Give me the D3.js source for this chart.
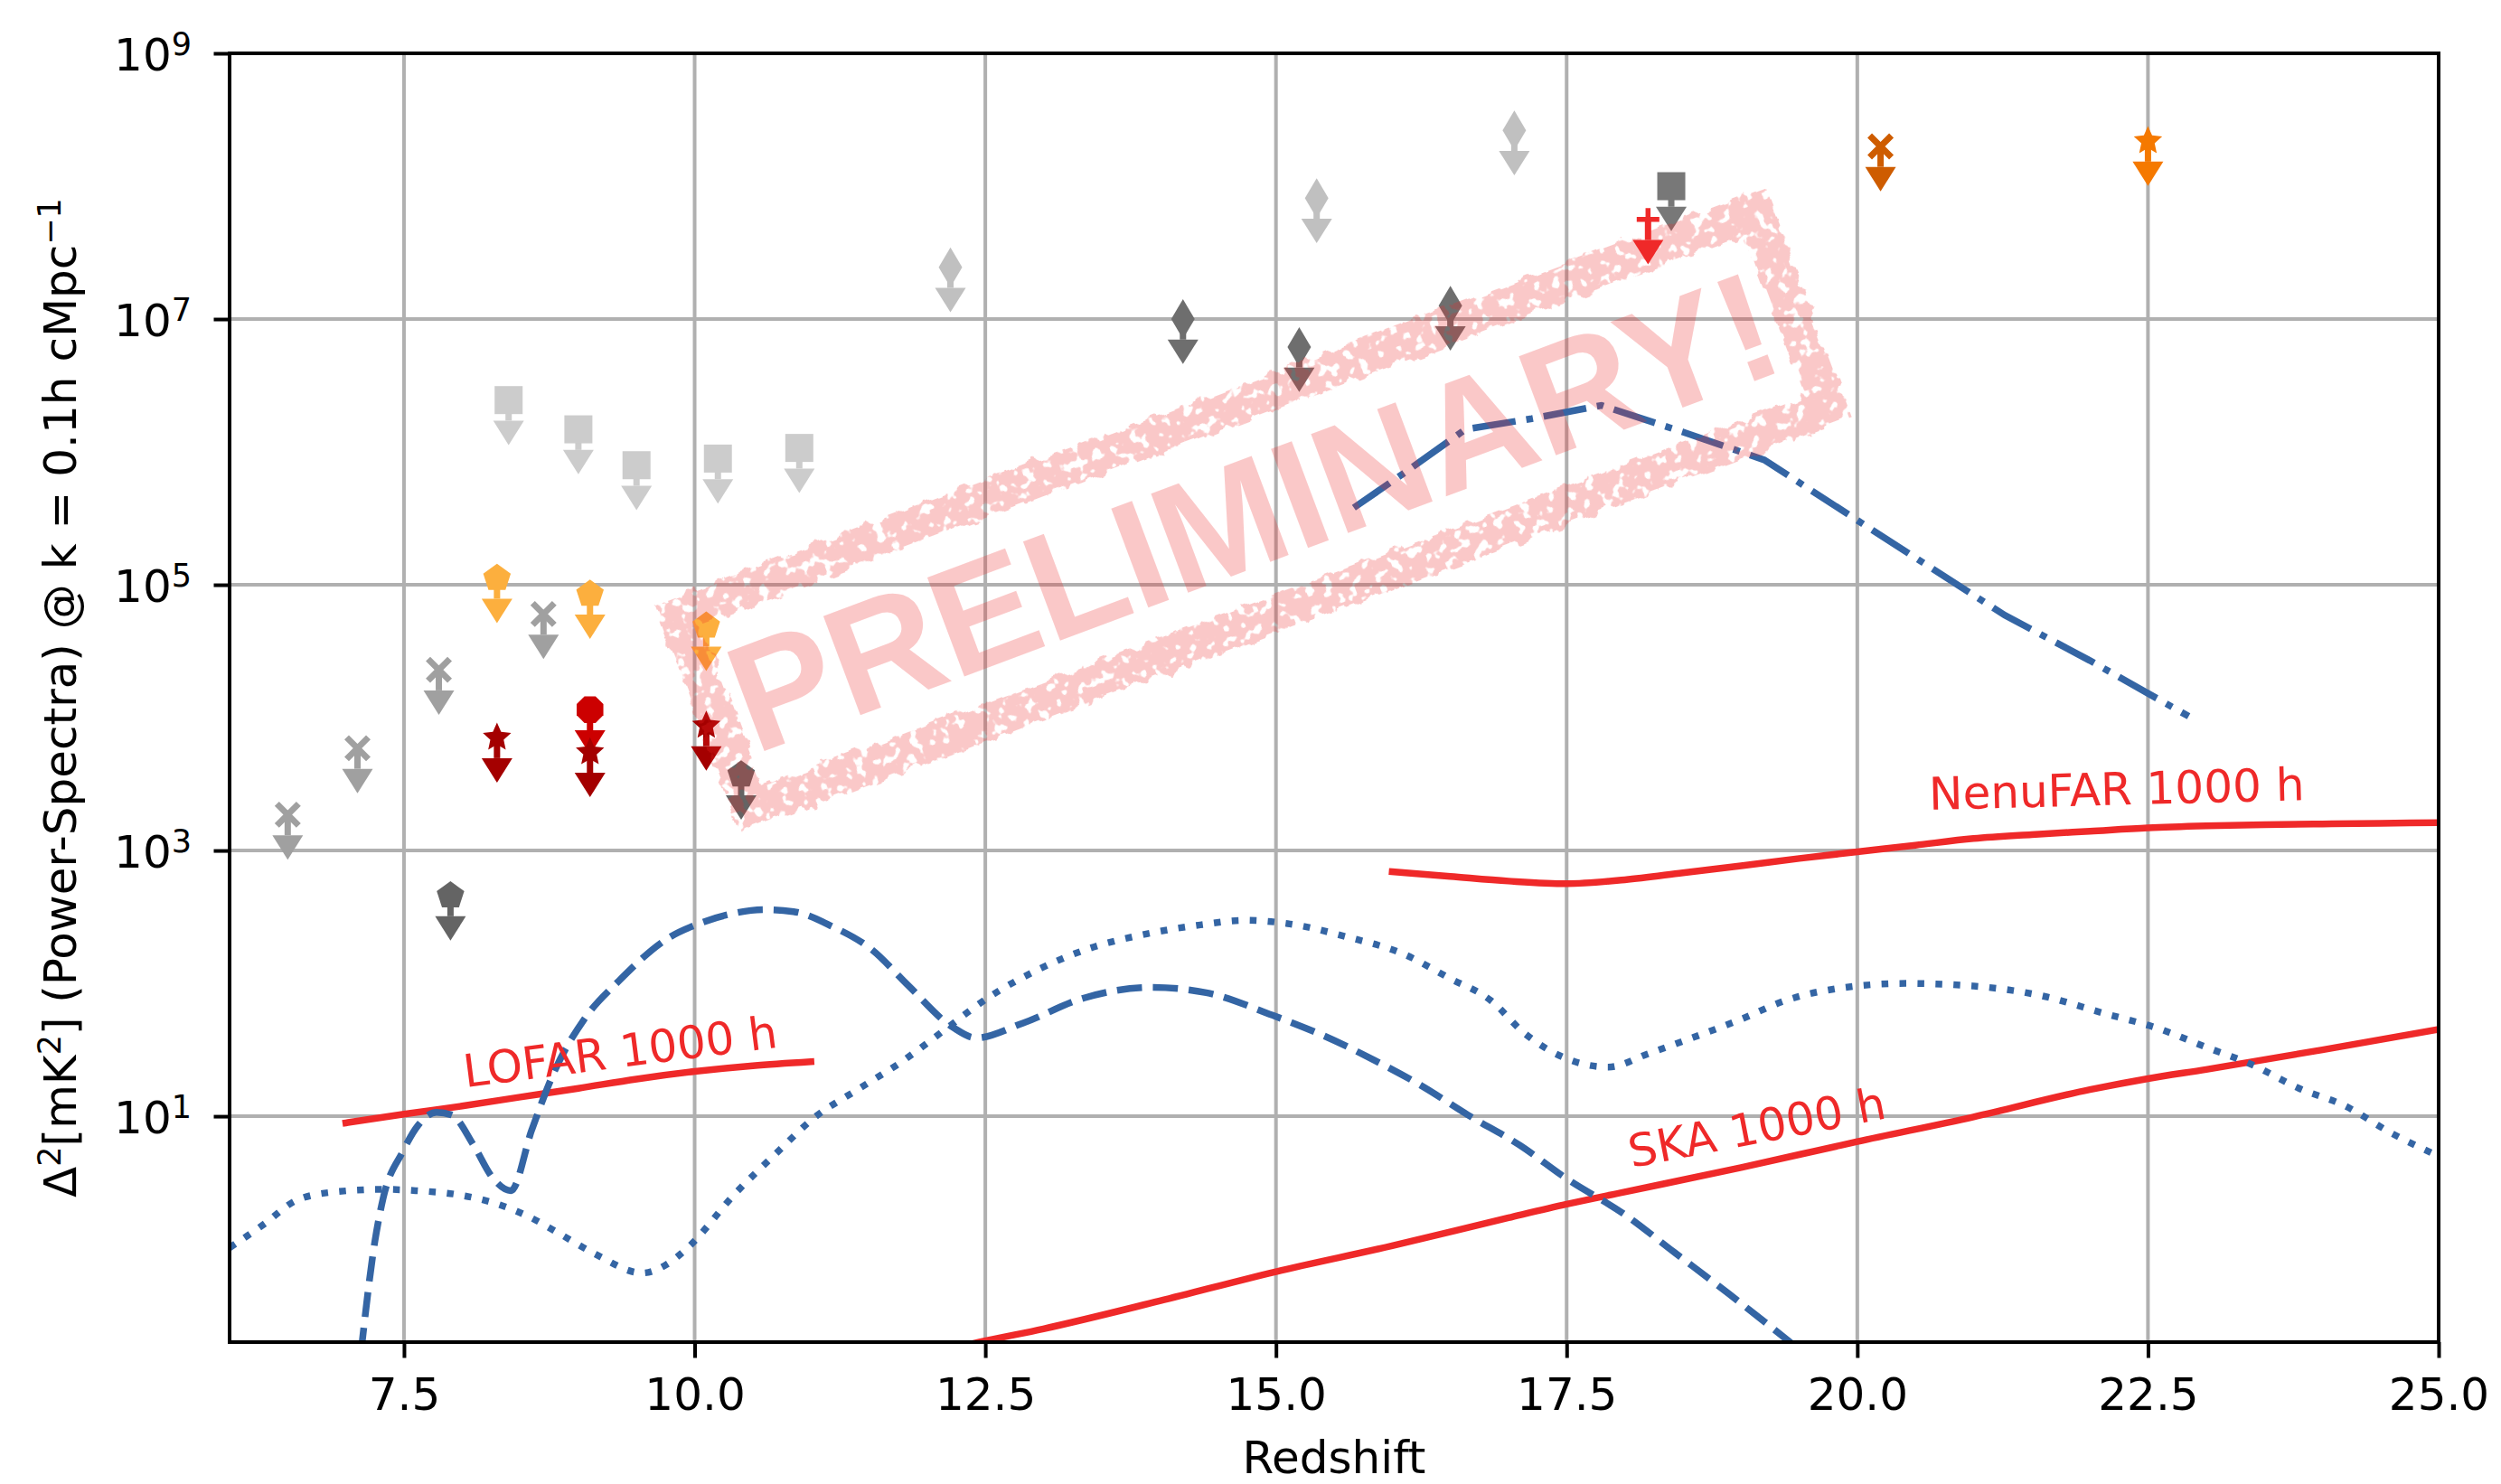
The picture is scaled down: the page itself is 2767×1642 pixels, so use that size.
<!DOCTYPE html>
<html>
<head>
<meta charset="utf-8">
<script src="https://cdn.jsdelivr.net/npm/d3@7"></script>
<style>
  html, body { margin: 0; padding: 0; background: #fff; }
  svg { display: block; }
</style>
</head>
<body>
<div id="chart"></div>
<script>
(function() {

  'use strict';

  var xTicks = [7.5, 10, 12.5, 15, 17.5, 20, 22.5, 25];
  var yTickPowers = [1, 3, 5, 7, 9];

  // Model curves as [redshift, log10 of Delta^2].
  var modelDashed = [[7.13, -0.78], [7.25, 0.06], [7.32, 0.38], [7.49, 0.735], [7.62, 0.93], [7.78, 1.03],
    [7.91, 1.01], [8.1, 0.78], [8.26, 0.54], [8.42, 0.44], [8.6, 0.90], [8.8, 1.35], [9.05, 1.73],
    [9.35, 2.02], [9.79, 2.35], [10.04, 2.45], [10.3, 2.52], [10.6, 2.555], [10.85, 2.54], [11.18, 2.43],
    [11.53, 2.25], [11.83, 1.99], [12.22, 1.67], [12.42, 1.59], [12.82, 1.70], [13.35, 1.89], [13.93, 1.97],
    [14.4, 1.93], [14.97, 1.76], [15.4, 1.61], [15.85, 1.42], [16.25, 1.23], [16.65, 1.01], [17.1, 0.78],
    [17.5, 0.53], [18.0, 0.26], [18.42, -0.02], [18.9, -0.34], [19.45, -0.72]];
  var modelDotted = [[6.0, 0.01], [6.3, 0.19], [6.57, 0.365], [6.9, 0.43], [7.32, 0.45], [7.6, 0.44],
    [7.96, 0.41], [8.3, 0.34], [8.56, 0.25], [8.85, 0.11], [9.15, -0.04], [9.55, -0.18], [9.75, -0.12],
    [9.94, 0.01], [10.34, 0.41], [10.7, 0.72], [11.03, 0.99], [11.4, 1.2], [11.78, 1.41], [12.15, 1.65],
    [12.52, 1.89], [12.97, 2.11], [13.35, 2.25], [13.93, 2.38], [14.35, 2.44], [14.73, 2.475], [15.1, 2.45],
    [15.61, 2.35], [16.1, 2.22], [16.49, 2.04], [16.85, 1.87], [17.13, 1.63], [17.54, 1.42], [17.86, 1.37],
    [18.2, 1.47], [18.58, 1.59], [19.0, 1.73], [19.38, 1.87], [19.9, 1.97], [20.42, 2.0], [21.0, 1.98],
    [21.62, 1.90], [22.1, 1.78], [22.59, 1.66], [23.0, 1.52], [23.39, 1.39], [23.8, 1.21], [24.19, 1.08],
    [24.6, 0.87], [25.0, 0.70]];
  var modelDashDot = [[15.67, 5.58], [16.1, 5.84], [16.63, 6.17], [17.2, 6.25], [17.8, 6.35], [18.5, 6.15],
    [19.2, 5.94], [20.08, 5.44], [21.27, 4.77], [22.0, 4.43], [22.85, 4.01]];

  // Sensitivity curves for 1000 h.
  var lofarSens = [[7.0, 0.95], [7.5, 1.016], [8.0, 1.077], [8.5, 1.144], [9.0, 1.21], [9.5, 1.28],
    [10.0, 1.337], [10.5, 1.38], [11.0, 1.41]];
  var nenufarSens = [[16.0, 2.84], [16.5, 2.805], [17.0, 2.77], [17.5, 2.75], [18.0, 2.78], [18.5, 2.832],
    [19.0, 2.885], [19.5, 2.94], [20.0, 2.99], [20.5, 3.04], [21.0, 3.09], [21.5, 3.12], [22.0, 3.145],
    [22.5, 3.17], [23.0, 3.185], [23.5, 3.195], [24.0, 3.20], [24.5, 3.205], [25.0, 3.21]];
  var skaSens = [[12.35, -0.72], [12.45, -0.70], [13, -0.60], [14, -0.39], [15, -0.17], [16, 0.025],
    [17, 0.236], [17.5, 0.338], [18, 0.43], [19, 0.614], [20, 0.809], [21, 0.995], [22, 1.20], [22.5, 1.283],
    [23, 1.352], [24, 1.50], [25, 1.654]];

  // Upper limits, [redshift, log10 of Delta^2].
  var limLightSquares = [[8.4, 6.39], [9.0, 6.17], [9.5, 5.90], [10.2, 5.95], [10.9, 6.03]];
  var limGrayCrosses = [[6.5, 3.27], [7.1, 3.77], [7.8, 4.36], [8.7, 4.78]];
  var limOrangePentagons = [[8.3, 5.05], [9.1, 4.93], [10.1, 4.69]];
  var limRedOctagons = [[9.1, 4.06]];
  var limRedStars = [[8.3, 3.85], [9.1, 3.74], [10.1, 3.94]];
  var limDarkPentagons = [[7.9, 2.66], [10.4, 3.57]];
  var limLightDiamonds = [[12.2, 7.39], [15.35, 7.91], [17.05, 8.42]];
  var limDarkDiamonds = [[14.2, 7.0], [15.2, 6.79], [16.5, 7.10]];
  var limGraySquares = [[18.4, 8.0]];
  var limRedPlus = [[18.2, 7.75]];
  var limOrangeCrosses = [[20.2, 8.30]];
  var limOrangeStars = [[22.5, 8.34]];

  var width = 2767;
  var height = 1642;
  var left = 254, right = 2698, top = 59, bottom = 1485;
  var font = 'DejaVu Sans, sans-serif';
  var red = '#ef2929';
  var blue = '#3465a4';

  var xScale = d3.scaleLinear().domain([6, 25]).range([left, right]);
  var yScale = d3.scaleLog().domain([Math.pow(10, -0.7), 1e9]).range([bottom, top]);

  function px(d) { return xScale(d[0]); }
  function py(d) { return yScale(Math.pow(10, d[1])); }

  var svg = d3.select('#chart')
    .append('svg')
    .attr('width', width)
    .attr('height', height)
    .style('background', '#fff');

  svg.append('defs')
    .append('clipPath')
    .attr('id', 'plot-clip')
    .append('rect')
    .attr('x', left)
    .attr('y', top)
    .attr('width', right - left)
    .attr('height', bottom - top);

  // Grid.
  var grid = svg.append('g').attr('stroke', '#b0b0b0').attr('stroke-width', 4);
  grid.selectAll('.vgrid')
    .data(xTicks)
    .enter().append('line')
    .attr('x1', function(d) { return xScale(d); })
    .attr('x2', function(d) { return xScale(d); })
    .attr('y1', top)
    .attr('y2', bottom);
  grid.selectAll('.hgrid')
    .data(yTickPowers)
    .enter().append('line')
    .attr('y1', function(d) { return yScale(Math.pow(10, d)); })
    .attr('y2', function(d) { return yScale(Math.pow(10, d)); })
    .attr('x1', left)
    .attr('x2', right);

  var smooth = d3.line().x(px).y(py).curve(d3.curveMonotoneX);
  var straight = d3.line().x(px).y(py);

  var curves = svg.append('g')
    .attr('clip-path', 'url(#plot-clip)')
    .attr('fill', 'none');

  [lofarSens, skaSens, nenufarSens].forEach(function(series) {
    curves.append('path')
      .attr('d', smooth(series))
      .attr('stroke', red)
      .attr('stroke-width', 7.5)
      .attr('stroke-linecap', 'square')
      .attr('stroke-linejoin', 'round');
  });

  curves.append('path')
    .attr('d', smooth(modelDashed))
    .attr('stroke', blue)
    .attr('stroke-width', 7.5)
    .attr('stroke-dasharray', '27.75,12');

  curves.append('path')
    .attr('d', smooth(modelDotted))
    .attr('stroke', blue)
    .attr('stroke-width', 7.5)
    .attr('stroke-dasharray', '7.5,12.4');

  curves.append('path')
    .attr('d', straight(modelDashDot))
    .attr('stroke', blue)
    .attr('stroke-width', 7.5)
    .attr('stroke-dasharray', '48,12,7.5,12');

  // Curve labels.
  var labels = [
    {text: 'LOFAR 1000 h', at: [8.03, 1.218], angle: 7.3},
    {text: 'SKA 1000 h', at: [18.06, 0.612], angle: 11},
    {text: 'NenuFAR 1000 h', at: [20.62, 3.306], angle: 1.5}
  ];
  svg.append('g').selectAll('text')
    .data(labels)
    .enter().append('text')
    .attr('transform', function(d) {
      return 'translate(' + px(d.at) + ',' + py(d.at) + ') rotate(' + (-d.angle) + ')';
    })
    .attr('font-family', font)
    .attr('font-size', 50)
    .attr('fill', red)
    .text(function(d) { return d.text; });

  // Upper limit markers.
  function regularPolygon(n, r, startDeg) {
    var pts = d3.range(n).map(function(i) {
      var a = (startDeg + i * 360 / n) * Math.PI / 180;
      return [r * Math.cos(a), r * Math.sin(a)].map(function(v) { return v.toFixed(2); }).join(',');
    });
    return 'M' + pts.join('L') + 'Z';
  }
  function starPath(r, inner) {
    var pts = d3.range(10).map(function(i) {
      var a = (-90 + i * 36) * Math.PI / 180;
      var rr = i % 2 ? r * inner : r;
      return (rr * Math.cos(a)).toFixed(2) + ',' + (rr * Math.sin(a)).toFixed(2);
    });
    return 'M' + pts.join('L') + 'Z';
  }

  var markerPaths = {
    square: 'M-15.5,-15.5H15.5V15.5H-15.5Z',
    pentagon: regularPolygon(5, 16, -90),
    octagon: regularPolygon(8, 16, -67.5),
    star: starPath(16.5, 0.47),
    thinDiamond: 'M0,-22L13,0L0,22L-13,0Z',
    cross: 'M-12,-12L12,12M-12,12L12,-12',
    plus: 'M-12.5,0H12.5M0,-12.5V12.5'
  };
  var strokedMarkers = {cross: true, plus: true};

  var limitGroups = [
    {points: limLightSquares, marker: 'square', color: '#cccccc'},
    {points: limGrayCrosses, marker: 'cross', color: '#a0a0a0'},
    {points: limOrangePentagons, marker: 'pentagon', color: '#fcaf3e'},
    {points: limRedOctagons, marker: 'octagon', color: '#cc0000'},
    {points: limRedStars, marker: 'star', color: '#a40000'},
    {points: limDarkPentagons, marker: 'pentagon', color: '#646464'},
    {points: limLightDiamonds, marker: 'thinDiamond', color: '#c0c0c0'},
    {points: limDarkDiamonds, marker: 'thinDiamond', color: '#6e6e6e'},
    {points: limGraySquares, marker: 'square', color: '#787878'},
    {points: limRedPlus, marker: 'plus', color: red},
    {points: limOrangeCrosses, marker: 'cross', color: '#ce5c00'},
    {points: limOrangeStars, marker: 'star', color: '#f57900'}
  ];

  var limits = svg.append('g');
  limitGroups.forEach(function(group) {
    var g = limits.append('g');
    var item = g.selectAll('.limit')
      .data(group.points)
      .enter().append('g')
      .attr('class', 'limit');

    // The arrow ends at 70% of the limit value.
    item.append('line')
      .attr('x1', px)
      .attr('x2', px)
      .attr('y1', py)
      .attr('y2', function(d) { return yScale(Math.pow(10, d[1]) * 0.7); })
      .attr('stroke', group.color)
      .attr('stroke-width', 7);

    item.append('path')
      .attr('transform', function(d) {
        return 'translate(' + px(d) + ',' + yScale(Math.pow(10, d[1]) * 0.7) + ')';
      })
      .attr('d', 'M-17,0L17,0L0,27Z')
      .attr('fill', group.color);

    var mark = item.append('path')
      .attr('transform', function(d) { return 'translate(' + px(d) + ',' + py(d) + ')'; })
      .attr('d', markerPaths[group.marker]);
    if (strokedMarkers[group.marker]) {
      mark.attr('fill', 'none')
        .attr('stroke', group.color)
        .attr('stroke-width', group.marker === 'plus' ? 5.5 : 7);
    } else {
      mark.attr('fill', group.color);
    }
  });

  // The "PRELIMINARY!" stamp laid over the plot.
  var filter = svg.select('defs').append('filter')
    .attr('id', 'grunge')
    .attr('x', '-5%')
    .attr('y', '-20%')
    .attr('width', '110%')
    .attr('height', '140%');
  filter.append('feTurbulence')
    .attr('type', 'fractalNoise')
    .attr('baseFrequency', 0.05)
    .attr('numOctaves', 3)
    .attr('seed', 4)
    .attr('result', 'warp');
  filter.append('feDisplacementMap')
    .attr('in', 'SourceGraphic')
    .attr('in2', 'warp')
    .attr('scale', 18)
    .attr('xChannelSelector', 'R')
    .attr('yChannelSelector', 'G')
    .attr('result', 'wobbly');
  filter.append('feTurbulence')
    .attr('type', 'fractalNoise')
    .attr('baseFrequency', 0.09)
    .attr('numOctaves', 2)
    .attr('seed', 9)
    .attr('result', 'speck');
  filter.append('feColorMatrix')
    .attr('in', 'speck')
    .attr('type', 'matrix')
    .attr('values', '0 0 0 0 0  0 0 0 0 0  0 0 0 0 0  -18 0 0 0 11.5')
    .attr('result', 'holes');
  filter.append('feComposite')
    .attr('in', 'wobbly')
    .attr('in2', 'holes')
    .attr('operator', 'in');

  var stamp = svg.append('g')
    .attr('transform', 'translate(1386,565) rotate(-20.5)')
    .attr('opacity', 0.25);
  stamp.append('rect')
    .attr('x', -636)
    .attr('y', -116)
    .attr('width', 1272)
    .attr('height', 232)
    .attr('fill', 'none')
    .attr('stroke', red)
    .attr('stroke-width', 40)
    .attr('filter', 'url(#grunge)');
  stamp.append('text')
    .attr('x', 0)
    .attr('y', 60)
    .attr('text-anchor', 'middle')
    .attr('font-family', 'Liberation Sans, Arial, sans-serif')
    .attr('font-weight', 'bold')
    .attr('font-size', 170)
    .attr('fill', red)
    .text('PRELIMINARY!');

  // Spines.
  svg.append('rect')
    .attr('x', left)
    .attr('y', top)
    .attr('width', right - left)
    .attr('height', bottom - top)
    .attr('fill', 'none')
    .attr('stroke', '#000')
    .attr('stroke-width', 4);

  var xAxis = d3.axisBottom(xScale)
    .tickValues(xTicks)
    .tickFormat(d3.format('.1f'))
    .tickSize(17.5)
    .tickPadding(22);

  var xAxisG = svg.append('g')
    .attr('transform', 'translate(0,' + bottom + ')')
    .call(xAxis)
    .attr('font-size', 50)
    .attr('font-family', font);
  xAxisG.select('.domain').remove();
  xAxisG.selectAll('.tick line').attr('stroke', '#000').attr('stroke-width', 4);
  xAxisG.selectAll('.tick text').attr('fill', '#000');

  var yAxis = d3.axisLeft(yScale)
    .tickValues(yTickPowers.map(function(p) { return Math.pow(10, p); }))
    .tickSize(17.5)
    .tickPadding(24.5);

  var yAxisG = svg.append('g')
    .attr('transform', 'translate(' + left + ',0)')
    .call(yAxis)
    .attr('font-size', 50)
    .attr('font-family', font);
  yAxisG.select('.domain').remove();
  yAxisG.selectAll('.tick line').attr('stroke', '#000').attr('stroke-width', 4);
  yAxisG.selectAll('.tick text').each(function(d) {
    var t = d3.select(this).text(null).attr('fill', '#000').attr('dy', 18.5);
    t.append('tspan').text('10');
    t.append('tspan')
      .attr('dy', -17)
      .attr('font-size', 35)
      .text(Math.round(Math.log10(d)));
  });

  // Axis labels.
  svg.append('text')
    .attr('x', (left + right) / 2)
    .attr('y', 1630)
    .attr('text-anchor', 'middle')
    .attr('font-family', font)
    .attr('font-size', 50)
    .text('Redshift');

  var yLabel = svg.append('text')
    .attr('transform', 'translate(84,' + (top + bottom) / 2 + ') rotate(-90)')
    .attr('text-anchor', 'middle')
    .attr('font-family', font)
    .attr('font-size', 50);
  yLabel.append('tspan').text('\u0394');
  yLabel.append('tspan').attr('dy', -17).attr('font-size', 35).text('2');
  yLabel.append('tspan').attr('dy', 17).text('[mK');
  yLabel.append('tspan').attr('dy', -17).attr('font-size', 35).text('2');
  yLabel.append('tspan').attr('dy', 17).text('] (Power-Spectra) @ k = 0.1h cMpc');
  yLabel.append('tspan').attr('dy', -17).attr('font-size', 35).text('\u22121');

}());
</script>
</body>
</html>
